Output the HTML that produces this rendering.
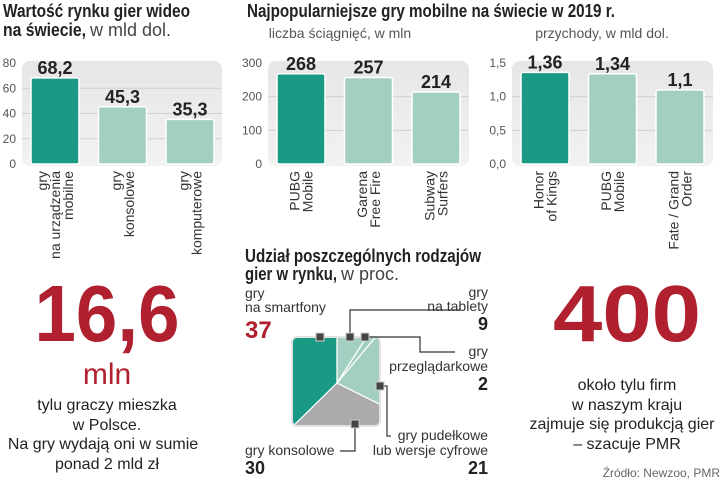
<!DOCTYPE html>
<html><head><meta charset="utf-8"><style>
html,body{margin:0;padding:0;background:#fff;overflow:hidden;width:721px;height:481px}
svg{display:block;font-family:"Liberation Sans",sans-serif}
.t{font-weight:bold;font-size:18px;fill:#222}
.tl{font-weight:normal;fill:#444}
.sub{font-size:14px;fill:#555}
.tick{font-size:12px;fill:#555}
.val{font-weight:bold;font-size:18px;fill:#222}
.cat{font-size:14px;fill:#333}
.lab{font-size:14px;fill:#333}
.num{font-weight:bold;font-size:18px;fill:#222}
.txt{font-size:16px;fill:#222}
</style></head><body>
<svg id="s" width="721" height="481" viewBox="0 0 721 481">
<defs>
<linearGradient id="bg" x1="0" y1="0" x2="0" y2="1"><stop offset="0" stop-color="#e6e6e6"/><stop offset="1" stop-color="#f2f2f2"/></linearGradient>
<clipPath id="sq"><rect x="292" y="337" width="88" height="89" rx="5"/></clipPath>
</defs>
<text class="t" x="3" y="17" textLength="187" lengthAdjust="spacingAndGlyphs">Wartość rynku gier wideo</text>
<text class="t" x="3" y="36"><tspan textLength="83" lengthAdjust="spacingAndGlyphs">na świecie,</tspan><tspan class="tl" dx="4">w mld dol.</tspan></text>
<text class="t" x="247" y="17" textLength="368" lengthAdjust="spacingAndGlyphs">Najpopularniejsze gry mobilne na świecie w 2019 r.</text>
<text class="sub" x="340" y="38" text-anchor="middle">liczba ściągnięć, w mln</text>
<text class="sub" x="602" y="38" text-anchor="middle">przychody, w mld dol.</text>
<g id="charts"></g>

<text style="font-size:80px;font-weight:bold;fill:#b0202e" x="107" y="341" text-anchor="middle" textLength="145" lengthAdjust="spacingAndGlyphs">16,6</text>
<text style="font-size:30px;fill:#b0202e" x="107" y="384" text-anchor="middle">mln</text>
<g class="txt" text-anchor="middle">
<text x="107" y="410">tylu graczy mieszka</text><text x="107" y="430">w Polsce.</text>
<text x="103" y="449">Na gry wydają oni w sumie</text><text x="107" y="469">ponad 2 mld zł</text></g>

<text style="font-size:80px;font-weight:bold;fill:#b0202e" x="627" y="341" text-anchor="middle" textLength="148" lengthAdjust="spacingAndGlyphs">400</text>
<g class="txt" text-anchor="middle">
<text x="627" y="390">około tylu firm</text><text x="627" y="410">w naszym kraju</text>
<text x="622" y="429">zajmuje się produkcją gier</text><text x="627" y="449">– szacuje PMR</text></g>
<text x="720" y="477" text-anchor="end" style="font-size:12px;fill:#666">Źródło: Newzoo, PMR</text>

<text class="t" x="245" y="262" textLength="236" lengthAdjust="spacingAndGlyphs">Udział poszczególnych rodzajów</text>
<text class="t" x="245" y="280"><tspan textLength="92" lengthAdjust="spacingAndGlyphs">gier w rynku,</tspan><tspan class="tl" dx="4">w proc.</tspan></text>
<g id="pie"></g>
</svg>
<script>
// chart data
const marketCats = [["gry","na urządzenia","mobilne"],["gry","konsolowe"],["gry","komputerowe"]];
const marketVals = [68.2, 45.3, 35.3];
const marketLabels = ["68,2","45,3","35,3"];
const marketTicks = [0,20,40,60,80];
const dlCats = [["PUBG","Mobile"],["Garena","Free Fire"],["Subway","Surfers"]];
const dlVals = [268, 257, 214];
const dlLabels = ["268","257","214"];
const dlTicks = [0,100,200,300];
const revCats = [["Honor","of Kings"],["PUBG","Mobile"],["Fate / Grand","Order"]];
const revVals = [1.36, 1.34, 1.1];
const revLabels = ["1,36","1,34","1,1"];
const revTicks = [0,0.5,1.0,1.5];
const revTickLabels = ["0,0","0,5","1,0","1,5"];
const pieNames = ["smartfony","konsolowe","pudelkowe","przegladarkowe","tablety"];
const pieVals = [37, 30, 21, 2, 9];

const NS="http://www.w3.org/2000/svg";
function mk(tag, attrs, parent){const e=document.createElementNS(NS,tag);for(const k in attrs)e.setAttribute(k,attrs[k]);parent.appendChild(e);return e;}
const G=document.getElementById('charts');
function barChart(key, x0, x1, cats, vals, labels, ticks, tickLabels, max){
  const top=63, bot=164;
  const y=v=>bot-(v/max)*(bot-top);
  const g=mk('g',{},G);
  
  
  const bg=mk('rect',{x:x0,y:top-2,width:x1-x0,height:bot-top+4,rx:8,fill:'url(#bg)'},g);
  
  
  ticks.forEach((t,i)=>{
    if(i>0&&i<ticks.length-1){const l=mk('line',{x1:x0,x2:x1,y1:y(t),y2:y(t),stroke:'#d0d0d0','stroke-width':1},g);
      
      }
    const tx=mk('text',{x:x0-6,y:y(t)+4,'text-anchor':'end','class':'tick'},g);
    tx.textContent=tickLabels?tickLabels[i]:String(t);
    
    
  });
  const bw=48;
  vals.forEach((v,i)=>{
    const cx=x0+33+67.5*i;
    const b=mk('rect',{x:cx-bw/2,y:y(v),width:bw,height:bot-y(v),fill:i===0?'#1a9a85':'#a2cfc2',stroke:'#fff','stroke-width':1.5,rx:2},g);
    
    
    const vt=mk('text',{x:cx,y:y(v)-4,'text-anchor':'middle','class':'val'},g);
    vt.textContent=labels[i];
    
    
    const lines=cats[i], lh=13;
    lines.forEach((ln,j)=>{
      const lx=cx-((lines.length-1)*lh)/2+j*lh+5;
      const ct=mk('text',{transform:`translate(${lx},171) rotate(-90)`,'text-anchor':'end','class':'cat'},g);
      ct.textContent=ln;
      
      
    });
  });
}
barChart('market',22,222,marketCats,marketVals,marketLabels,marketTicks,null,80);
barChart('downloads',268,469,dlCats,dlVals,dlLabels,dlTicks,null,300);
barChart('revenue',512,713,revCats,revVals,revLabels,revTicks,revTickLabels,1.5);

// pie (square)
const P=document.getElementById('pie');
const cx=337, cy=383, R=200;
const colors=['#1a9a85','#ababab','#a2cfc2','#a2cfc2','#a2cfc2'];
const total=pieVals.reduce((a,b)=>a+b,0);
const pg=mk('g',{'clip-path':'url(#sq)'},P);
let a=0;
function pt(ang){return [cx-R*Math.sin(ang), cy-R*Math.cos(ang)];}
pieVals.forEach((v,i)=>{
  const a0=a, a1=a+v/total*2*Math.PI; a=a1;
  const pts=[[cx,cy]]; const steps=24;
  for(let k=0;k<=steps;k++)pts.push(pt(a0+(a1-a0)*k/steps));
  const p=mk('polygon',{points:pts.map(q=>q.join(',')).join(' '),fill:colors[i],stroke:'#fff','stroke-width':1.2},pg);
  
  
});
const fr=mk('rect',{x:292,y:337,width:88,height:89,rx:5,fill:'none',stroke:'#e3e3e3','stroke-width':2},P);


const leaders=[[[350,337],[350,310],[460,310]],[[365,337],[420,337],[420,352],[455,352]],[[380,386],[387,386],[387,436],[391,436]],[[355,424],[355,451],[340,451]]];
leaders.forEach(l=>{const e=mk('polyline',{points:l.map(q=>q.join(',')).join(' '),fill:'none',stroke:'#333','stroke-width':1.2},P);
  
  });
[[320,337],[350,337],[365,337],[380,386],[355,424]].forEach(m=>{const e=mk('rect',{x:m[0]-4,y:m[1]-4,width:8,height:8,fill:'#444',stroke:'#ccc','stroke-width':1},P);
  
  });
const labs=[[245,298,'start','lab','gry'],[245,312,'start','lab','na smartfony'],[245,338,'start','num','37'],
[488,297,'end','lab','gry'],[488,311,'end','lab','na tablety'],[488,330,'end','num','9'],
[488,356,'end','lab','gry'],[488,371,'end','lab','przeglądarkowe'],[488,390,'end','num','2'],
[488,440,'end','lab','gry pudełkowe'],[488,455,'end','lab','lub wersje cyfrowe'],[488,474,'end','num','21'],
[245,455,'start','lab','gry konsolowe'],[245,474,'start','num','30']];
labs.forEach((l,i)=>{const t=mk('text',{x:l[0],y:l[1],'text-anchor':l[2],'class':l[3]},P);t.textContent=l[4];
  if(i===2){t.setAttribute('style','fill:#b0202e;font-size:24px');}
  
  });
</script>
</body></html>
